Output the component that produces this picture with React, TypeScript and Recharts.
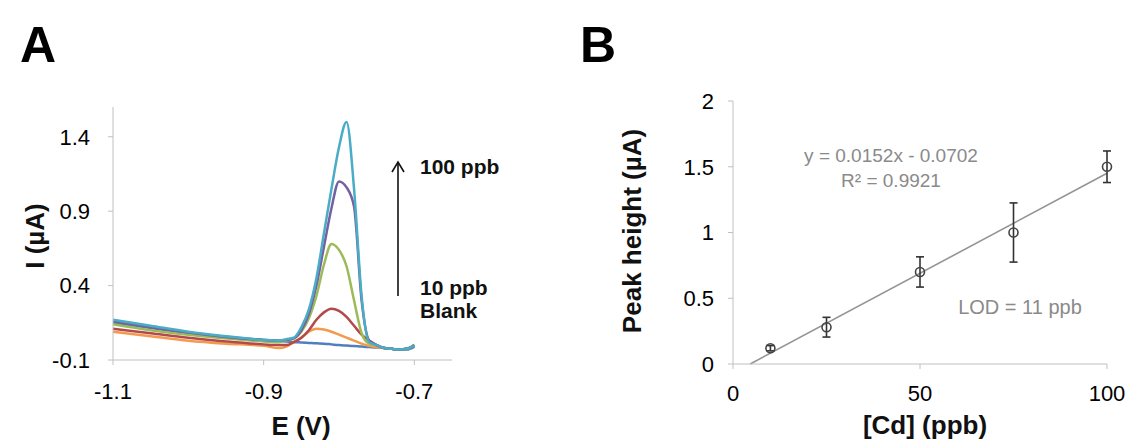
import React from 'react';
import { LineChart, Line, XAxis, YAxis, ComposedChart, Scatter, ErrorBar, ReferenceLine } from 'recharts';

const FONT = '"Liberation Sans", Arial, sans-serif';

// Panel A: stripping voltammograms, current (µA) vs potential (V)
const potentials = [-1.1, -1.05, -1.0, -0.95, -0.9, -0.88, -0.87, -0.86, -0.85, -0.84, -0.83, -0.82, -0.81, -0.8, -0.79, -0.78, -0.77, -0.76, -0.75, -0.74, -0.73, -0.72, -0.71, -0.7];
const blank = [0.15, 0.115, 0.08, 0.055, 0.035, 0.03, 0.025, 0.02, 0.018, 0.015, 0.012, 0.01, 0.005, 0.0, -0.003, -0.006, -0.01, -0.013, -0.016, -0.02, -0.025, -0.03, -0.03, -0.01];
const ppb10 = [0.09, 0.06, 0.03, 0.01, -0.005, -0.02, -0.01, 0.02, 0.05, 0.09, 0.11, 0.105, 0.09, 0.07, 0.05, 0.03, 0.01, -0.005, -0.015, -0.02, -0.025, -0.03, -0.025, 0.0];
const ppb25 = [0.11, 0.08, 0.05, 0.025, 0.005, 0.0, 0.0, 0.02, 0.05, 0.1, 0.17, 0.22, 0.245, 0.23, 0.19, 0.13, 0.07, 0.03, 0.0, -0.02, -0.025, -0.03, -0.025, 0.0];
const ppb50 = [0.14, 0.1, 0.07, 0.045, 0.025, 0.02, 0.03, 0.045, 0.09, 0.18, 0.33, 0.54, 0.68, 0.64, 0.53, 0.3, 0.08, 0.01, 0.0, -0.02, -0.025, -0.03, -0.025, 0.0];
const ppb75 = [0.16, 0.12, 0.085, 0.055, 0.035, 0.03, 0.035, 0.045, 0.1, 0.21, 0.4, 0.66, 0.92, 1.1, 1.06, 0.93, 0.3, 0.03, 0.0, -0.02, -0.025, -0.03, -0.025, 0.0];
const ppb100 = [0.17, 0.13, 0.09, 0.06, 0.035, 0.03, 0.04, 0.05, 0.12, 0.24, 0.45, 0.75, 1.05, 1.33, 1.5, 1.05, 0.33, 0.02, 0.0, -0.02, -0.025, -0.03, -0.025, 0.0];
const potentialTicks = [-1.1, -0.9, -0.7];
const currentTicks = [-0.1, 0.4, 0.9, 1.4];

// Panel B: calibration
const concentrations = [10, 25, 50, 75, 100];
const peakHeights = [0.12, 0.28, 0.7, 1.0, 1.5];
const peakErrors = [0.02, 0.075, 0.115, 0.225, 0.12];
const fitStart = { x: 4.6, y: 0 };
const fitEnd = { x: 100, y: 1.45 };
const concTicks = [0, 50, 100];
const heightTicks = [0, 0.5, 1, 1.5, 2];

const voltData = potentials.map((e, i) => ({
  e,
  blank: blank[i],
  ppb10: ppb10[i],
  ppb25: ppb25[i],
  ppb50: ppb50[i],
  ppb75: ppb75[i],
  ppb100: ppb100[i],
}));

const calData = concentrations.map((x, i) => ({ x, y: peakHeights[i], err: peakErrors[i] }));

const SERIES = [
  { key: 'blank', color: '#4f7fbd' },
  { key: 'ppb10', color: '#f39a4e' },
  { key: 'ppb25', color: '#b4494b' },
  { key: 'ppb50', color: '#9bbb59' },
  { key: 'ppb75', color: '#7560a0' },
  { key: 'ppb100', color: '#4bacc6' },
];

const AXIS = '#c0c0c0';
const tickStyle = { fill: '#000', fontSize: 22, fontFamily: FONT };

const OpenCircle = (props: any) => (
  <circle cx={props.cx} cy={props.cy} r={4.5} fill="none" stroke="#444" strokeWidth={1.6} />
);

export default function App() {
  return (
    <div style={{ position: 'absolute', left: 0, top: 0, width: 1137, height: 445, background: '#fff', fontFamily: FONT }}>
      <div style={{ position: 'absolute', left: 0, top: 0 }}>
        <LineChart width={480} height={445} data={voltData} margin={{ top: 107, right: 28, bottom: 0, left: 0 }}>
          <XAxis
            dataKey="e"
            type="number"
            domain={[-1.1, -0.65]}
            ticks={potentialTicks}
            interval={0}
            tickFormatter={(v: number) => v.toFixed(1)}
            height={85}
            tickSize={5}
            tickMargin={18}
            stroke={AXIS}
            tick={tickStyle}
          />
          <YAxis
            type="number"
            domain={[-0.1, 1.6]}
            ticks={currentTicks}
            interval={0}
            tickFormatter={(v: number) => v.toFixed(1)}
            width={113}
            tickSize={5}
            tickMargin={18}
            stroke={AXIS}
            tick={tickStyle}
          />
          {SERIES.map((s) => (
            <Line
              key={s.key}
              dataKey={s.key}
              type="monotone"
              stroke={s.color}
              strokeWidth={2.5}
              dot={false}
              isAnimationActive={false}
            />
          ))}
        </LineChart>
      </div>

      <div style={{ position: 'absolute', left: 560, top: 0 }}>
        <ComposedChart width={577} height={445} margin={{ top: 101, right: 30, bottom: 0, left: 0 }}>
          <XAxis
            dataKey="x"
            type="number"
            domain={[0, 100]}
            ticks={concTicks}
            interval={0}
            height={81}
            tickSize={5}
            tickMargin={16}
            stroke={AXIS}
            tick={tickStyle}
          />
          <YAxis
            dataKey="y"
            type="number"
            domain={[0, 2]}
            ticks={heightTicks}
            interval={0}
            width={173}
            tickSize={5}
            tickMargin={14}
            stroke={AXIS}
            tick={tickStyle}
          />
          <ReferenceLine segment={[fitStart, fitEnd]} stroke="#949494" strokeWidth={1.6} ifOverflow="visible" />
          <Scatter data={calData} dataKey="y" shape={OpenCircle} isAnimationActive={false}>
            <ErrorBar dataKey="err" direction="y" width={4} stroke="#333" strokeWidth={1.6} isAnimationActive={false} />
          </Scatter>
        </ComposedChart>
      </div>

      <svg width={1137} height={445} style={{ position: 'absolute', left: 0, top: 0, pointerEvents: 'none' }} fontFamily={FONT}>
        <text x={20} y={62} fontSize={50} fontWeight="bold" fill="#000">A</text>
        <text x={580} y={62} fontSize={50} fontWeight="bold" fill="#000">B</text>

        <text x={35} y={236} fontSize={26} fontWeight="bold" fill="#111" textAnchor="middle" dominantBaseline="central" transform="rotate(-90 35 236)">I (µA)</text>
        <text x={301} y={426} fontSize={26} fontWeight="bold" fill="#111" textAnchor="middle" dominantBaseline="central">E (V)</text>
        <text x={632} y={231} fontSize={26} fontWeight="bold" fill="#111" textAnchor="middle" dominantBaseline="central" transform="rotate(-90 632 231)">Peak height (µA)</text>
        <text x={925} y={425} fontSize={26} fontWeight="bold" fill="#111" textAnchor="middle" dominantBaseline="central">[Cd] (ppb)</text>

        <line x1={398} y1={296} x2={398} y2={163} stroke="#111" strokeWidth={1.6} />
        <polyline points="392,172 398,162 404,172" fill="none" stroke="#111" strokeWidth={1.6} />
        <text x={420} y={166} fontSize={21} fontWeight="bold" fill="#111" dominantBaseline="central">100 ppb</text>
        <text x={420} y={287} fontSize={21} fontWeight="bold" fill="#111" dominantBaseline="central">10 ppb</text>
        <text x={420} y={310} fontSize={21} fontWeight="bold" fill="#111" dominantBaseline="central">Blank</text>

        <text x={891} y={155} fontSize={19} fill="#8a8a8a" textAnchor="middle" dominantBaseline="central">y = 0.0152x - 0.0702</text>
        <text x={891} y={180} fontSize={19} fill="#8a8a8a" textAnchor="middle" dominantBaseline="central">R² = 0.9921</text>
        <text x={1020} y={307} fontSize={20} fill="#8a8a8a" textAnchor="middle" dominantBaseline="central">LOD = 11 ppb</text>
      </svg>
    </div>
  );
}
